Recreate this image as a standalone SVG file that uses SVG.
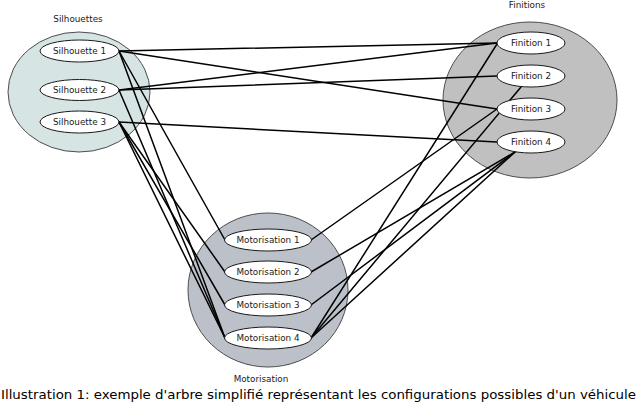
<svg xmlns="http://www.w3.org/2000/svg" width="640" height="406" viewBox="0 0 640 406">
<style>
.bg{fill:#ffffff}
.clu{stroke:#4d4d4d;stroke-width:1}
.node ellipse{fill:#ffffff;stroke:#1a1a1a;stroke-width:1}
text{font-family:"DejaVu Sans","Liberation Sans",sans-serif;font-size:8.8px;fill:#1a1a1a}
.node text{text-anchor:middle;dominant-baseline:central}
.lbl{text-anchor:middle}
#connectors line{stroke:#000000;stroke-width:1.5;stroke-linecap:round}
.cap{font-family:"DejaVu Sans Condensed","DejaVu Sans",sans-serif;font-size:13px;fill:#000000}
</style>
<rect class="bg" width="640" height="406"/>
<g id="cluster-silhouettes">
<ellipse class="clu" cx="79" cy="92" rx="71" ry="60" fill="#d6e4e4"/>
<text class="lbl" x="78" y="22">Silhouettes</text>
</g>
<g id="cluster-finitions">
<ellipse class="clu" cx="530" cy="100" rx="87" ry="78" fill="#c0c0c0"/>
<text class="lbl" x="527" y="8">Finitions</text>
</g>
<g id="cluster-motorisation">
<ellipse class="clu" cx="268" cy="290" rx="80" ry="77" fill="#bcc1c9"/>
<text class="lbl" x="261" y="382">Motorisation</text>
</g>
<g id="connectors">
<line x1="119" y1="51" x2="497" y2="43"/>
<line x1="119" y1="51" x2="497" y2="109"/>
<line x1="119" y1="90" x2="497" y2="43"/>
<line x1="119" y1="90" x2="497" y2="76"/>
<line x1="119" y1="122" x2="497" y2="142"/>
<line x1="119" y1="51" x2="225" y2="240"/>
<line x1="119" y1="51" x2="225" y2="338"/>
<line x1="119" y1="90" x2="225" y2="338"/>
<line x1="119" y1="122" x2="225" y2="272"/>
<line x1="119" y1="122" x2="225" y2="305"/>
<line x1="119" y1="122" x2="225" y2="338"/>
<line x1="311" y1="240" x2="497" y2="109"/>
<line x1="311" y1="272" x2="515" y2="152"/>
<line x1="311" y1="305" x2="515" y2="152"/>
<line x1="311" y1="338" x2="515" y2="152"/>
<line x1="311" y1="338" x2="521" y2="87"/>
<line x1="311" y1="338" x2="497" y2="44"/>
</g>
<g id="silhouette-1" class="node"><ellipse cx="79.5" cy="51" rx="39.5" ry="11"/><text x="79.5" y="51">Silhouette 1</text></g>
<g id="silhouette-2" class="node"><ellipse cx="79.5" cy="90" rx="39.5" ry="10.5"/><text x="79.5" y="90">Silhouette 2</text></g>
<g id="silhouette-3" class="node"><ellipse cx="79.5" cy="122" rx="39.5" ry="11"/><text x="79.5" y="122">Silhouette 3</text></g>
<g id="finition-1" class="node"><ellipse cx="531" cy="43" rx="34" ry="11"/><text x="531" y="43">Finition 1</text></g>
<g id="finition-2" class="node"><ellipse cx="531" cy="76" rx="34" ry="11"/><text x="531" y="76">Finition 2</text></g>
<g id="finition-3" class="node"><ellipse cx="531" cy="109" rx="34" ry="11"/><text x="531" y="109">Finition 3</text></g>
<g id="finition-4" class="node"><ellipse cx="531" cy="142" rx="34" ry="11"/><text x="531" y="142">Finition 4</text></g>
<g id="motorisation-1" class="node"><ellipse cx="268" cy="240" rx="43.5" ry="11"/><text x="268" y="240">Motorisation 1</text></g>
<g id="motorisation-2" class="node"><ellipse cx="268" cy="272" rx="43.5" ry="11"/><text x="268" y="272">Motorisation 2</text></g>
<g id="motorisation-3" class="node"><ellipse cx="268" cy="305" rx="43.5" ry="11"/><text x="268" y="305">Motorisation 3</text></g>
<g id="motorisation-4" class="node"><ellipse cx="268" cy="338" rx="43.5" ry="11"/><text x="268" y="338">Motorisation 4</text></g>
<text class="cap" x="1" y="399" textLength="635" lengthAdjust="spacingAndGlyphs">Illustration 1: exemple d'arbre simplifié représentant les configurations possibles d'un véhicule</text>
</svg>
